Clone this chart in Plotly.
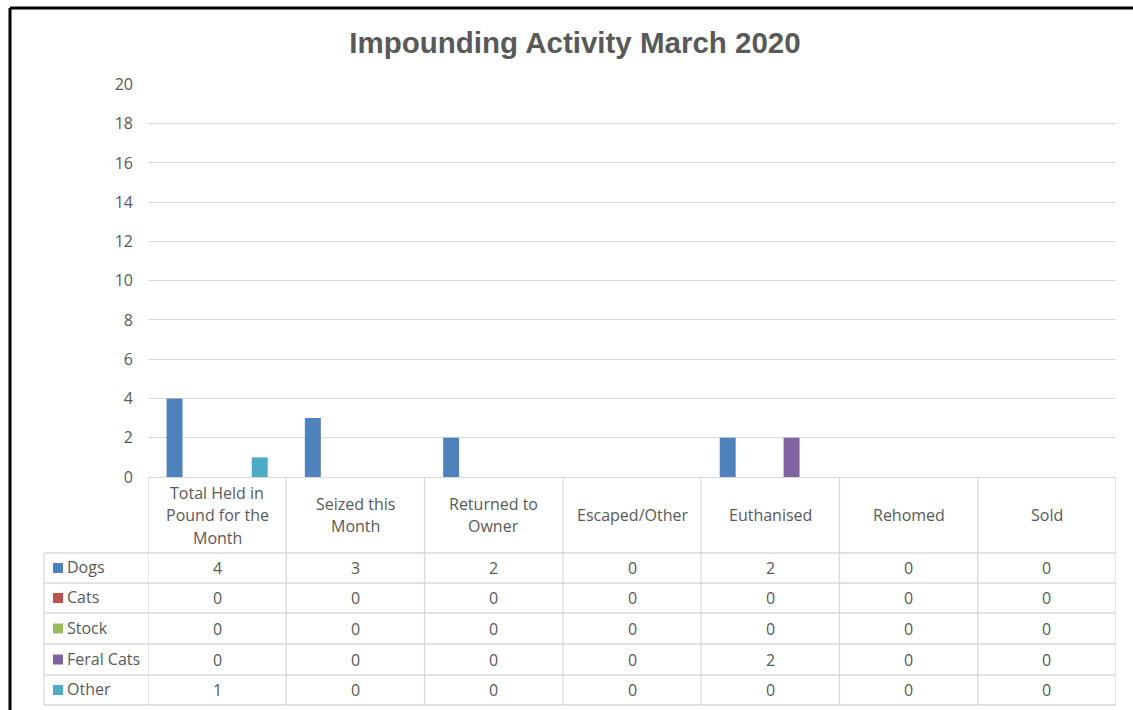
import plotly.graph_objects as go

categories = ["Total Held in<br>Pound for the<br>Month", "Seized this<br>Month", "Returned to<br>Owner",
              "Escaped/Other", "Euthanised", "Rehomed", "Sold"]
series_names = ["Dogs", "Cats", "Stock", "Feral Cats", "Other"]
dogs = [4, 3, 2, 0, 2, 0, 0]
cats = [0, 0, 0, 0, 0, 0, 0]
stock = [0, 0, 0, 0, 0, 0, 0]
feral_cats = [0, 0, 0, 0, 2, 0, 0]
other = [1, 0, 0, 0, 0, 0, 0]
series_values = [dogs, cats, stock, feral_cats, other]
colors = ["#4F81BD", "#C0504D", "#9BBB59", "#8064A2", "#4BACC6"]
y_ticks = [0, 2, 4, 6, 8, 10, 12, 14, 16, 18, 20]

W, H = 1133, 710
L, R, T, B = 148, 1116, 84, 477  # plot area in pixels
GRID = "#d9d9d9"
TXT = "#595959"
FONT = "Open Sans"
FS = 16

def px(x):
    return (x - L) / (R - L)

def py(y):
    return (B - y) / (B - T)

x_idx = list(range(len(categories)))

fig = go.Figure()
for name, vals, c in zip(series_names, series_values, colors):
    fig.add_trace(go.Bar(x=x_idx, y=vals, name=name, marker=dict(color=c, line=dict(width=0))))

shapes = []
annotations = []

header_bottom = 553
row_lines = [553, 583, 613, 644, 675, 705]
table_left = 44

for i in range(len(categories) + 1):
    shapes.append(dict(type="line", xref="x", yref="paper", x0=i - 0.5, x1=i - 0.5,
                       y0=py(B), y1=py(row_lines[-1]), line=dict(color=GRID, width=1.3)))
shapes.append(dict(type="line", xref="paper", yref="paper", x0=px(table_left), x1=px(table_left),
                   y0=py(header_bottom), y1=py(row_lines[-1]), line=dict(color=GRID, width=1.3)))
for yl in row_lines:
    shapes.append(dict(type="line", xref="paper", yref="paper", x0=px(table_left), x1=1,
                       y0=py(yl), y1=py(yl), line=dict(color=GRID, width=1.3)))

for i, cat in enumerate(categories):
    lines = cat.split("<br>")
    n = len(lines)
    center = (B + header_bottom) / 2
    for k, ln in enumerate(lines):
        yc = center + (k - (n - 1) / 2) * 22.5
        annotations.append(dict(x=i, y=py(yc), xref="x", yref="paper", text=ln, showarrow=False,
                                font=dict(family=FONT, size=FS, color=TXT), xanchor="center", yanchor="middle"))

for r, (name, vals, c) in enumerate(zip(series_names, series_values, colors)):
    yc = (row_lines[r] + row_lines[r + 1]) / 2
    shapes.append(dict(type="rect", xref="paper", yref="paper", x0=px(53), x1=px(63),
                       y0=py(yc + 5), y1=py(yc - 5), fillcolor=c, line=dict(width=0)))
    annotations.append(dict(x=px(65), y=py(yc - 1), xref="paper", yref="paper", text=name, showarrow=False,
                            font=dict(family=FONT, size=FS, color=TXT), xanchor="left", yanchor="middle"))
    for i, v in enumerate(vals):
        annotations.append(dict(x=i, y=py(yc), xref="x", yref="paper", text=str(v), showarrow=False,
                                font=dict(family=FONT, size=FS, color=TXT), xanchor="center", yanchor="middle"))

shapes.append(dict(type="line", xref="paper", yref="paper", x0=px(10), x1=px(W + 5),
                   y0=py(8), y1=py(8), line=dict(color="black", width=3)))
shapes.append(dict(type="line", xref="paper", yref="paper", x0=px(10), x1=px(10),
                   y0=py(8), y1=py(H + 5), line=dict(color="black", width=3)))

fig.update_layout(
    width=W, height=H,
    margin=dict(l=L, r=W - R, t=T, b=H - B, pad=0),
    paper_bgcolor="white", plot_bgcolor="white",
    barmode="group", bargap=0.23, bargroupgap=0.25,
    showlegend=False,
    title=dict(text="<b>Impounding Activity March 2020</b>", x=575 / W, xanchor="center",
               y=1 - 43 / H, yanchor="middle",
               font=dict(family="Liberation Sans", size=29.5, color=TXT)),
    xaxis=dict(range=[-0.5, len(categories) - 0.5], showticklabels=False, showgrid=False,
               zeroline=False, showline=False, ticks="", fixedrange=True),
    yaxis=dict(range=[0, 20.02], tickvals=y_ticks, showgrid=True, gridcolor=GRID, gridwidth=1.3,
               zeroline=True, zerolinecolor=GRID, zerolinewidth=1.3, showline=False,
               tickfont=dict(family=FONT, size=16, color=TXT), ticklabelstandoff=14),
    shapes=shapes, annotations=annotations,
)

fig.write_html("out.html", config={"displayModeBar": False},
               post_script="document.body.style.margin='0';document.body.style.overflow='hidden';")
